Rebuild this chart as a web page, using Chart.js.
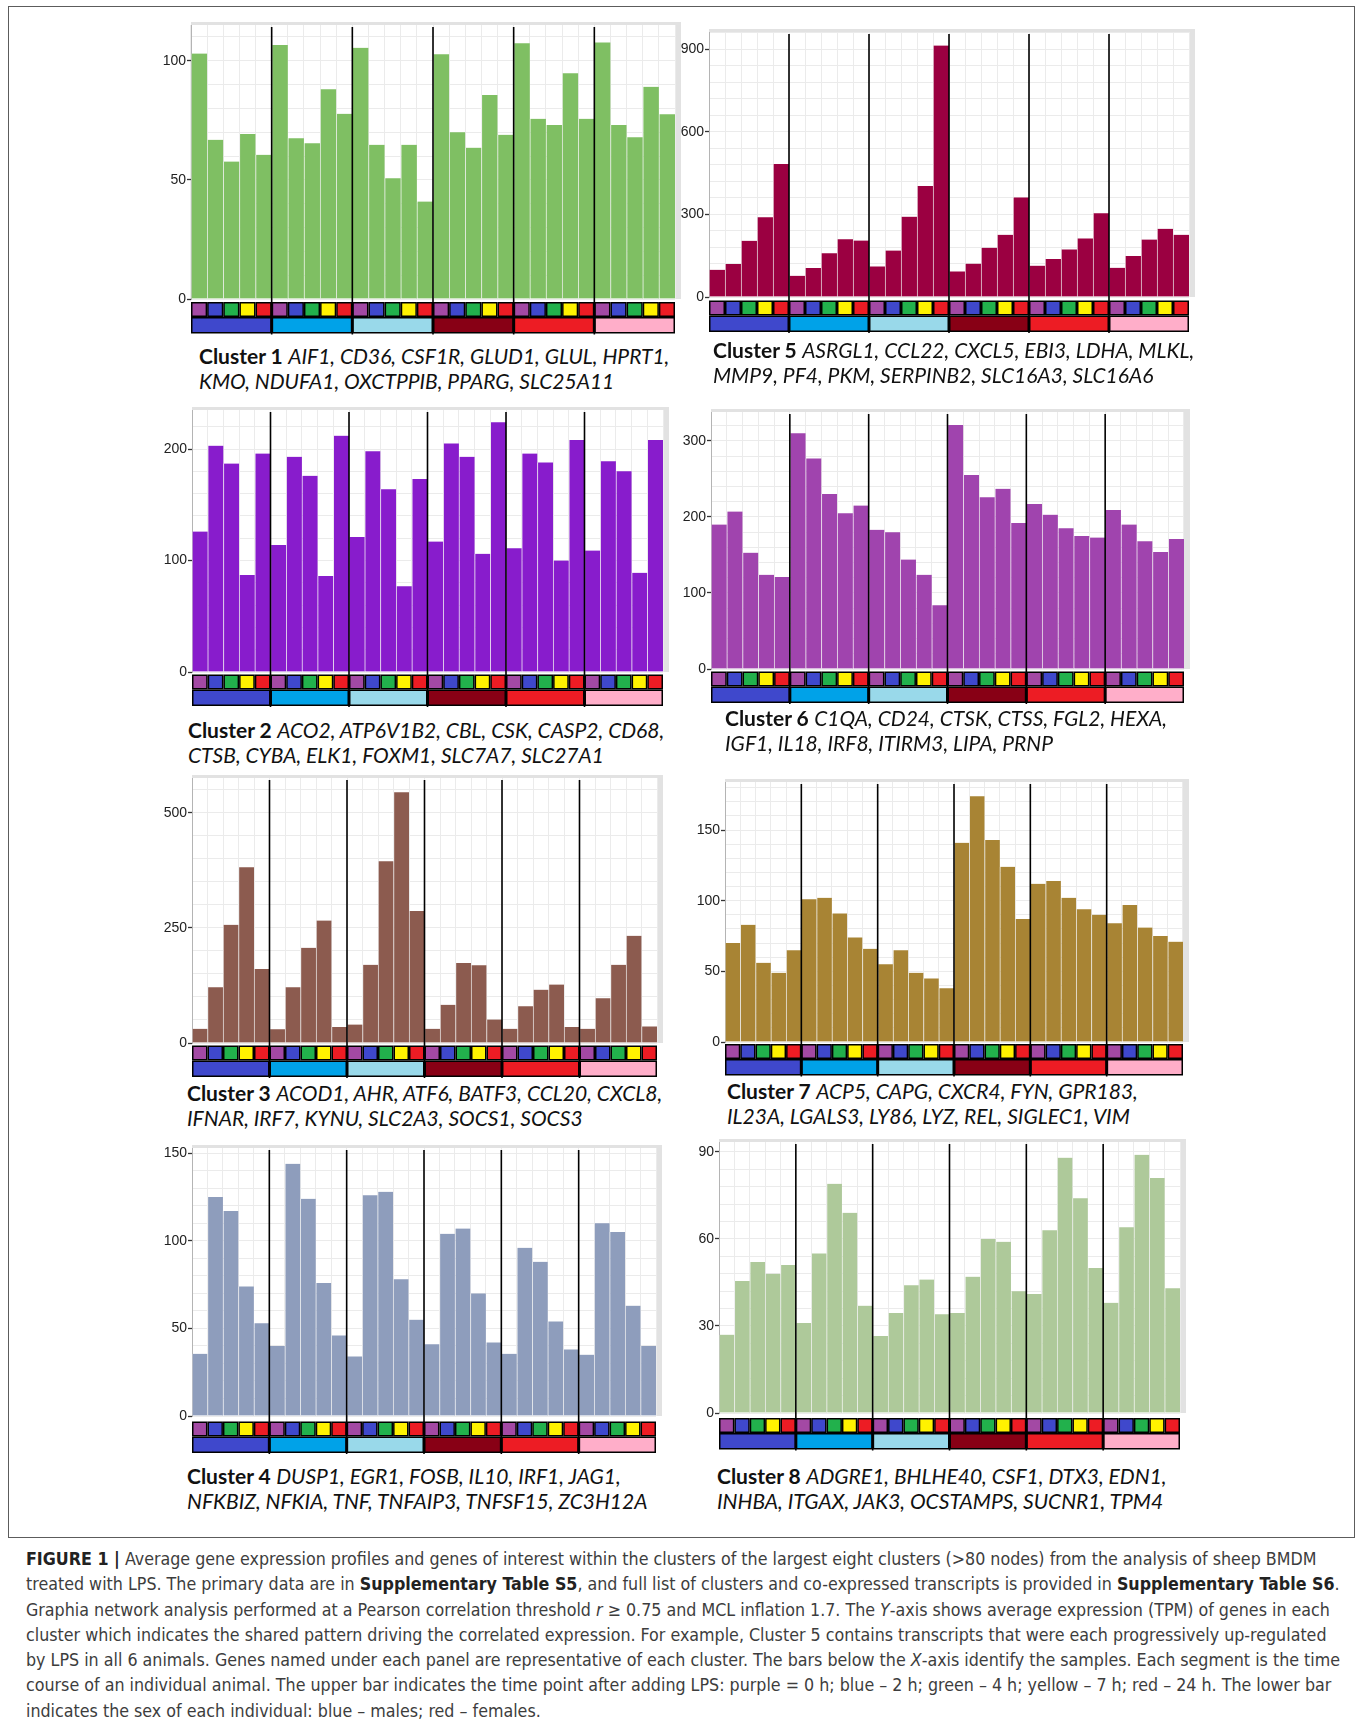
<!DOCTYPE html>
<html>
<head>
<meta charset="utf-8">
<title>Figure 1 - gene expression clusters</title>
<script src="https://cdn.jsdelivr.net/npm/chart.js@4.4.1/dist/chart.umd.min.js"></script>
<style>
  html, body { margin: 0; padding: 0; background: #fff; }
  body { position: relative; width: 1360px; height: 1725px; overflow: hidden; }
  #frame { position: absolute; left: 8px; top: 6px; width: 1347px; height: 1532px;
           border: 1.5px solid #5c5c5c; box-sizing: border-box; }
  .cap { position: absolute; white-space: nowrap; font-family: Lato, 'Open Sans', sans-serif;
         font-size: 21px; line-height: 21px; color: #111; }
  .cap b { font-weight: 700; }
  #legend { position: absolute; left: 26px; top: 1547px; width: 1330px;
            font-family: 'Liberation Sans Narrow', 'Arial Narrow', 'DejaVu Sans Condensed', 'Liberation Sans', sans-serif;
            font-size: 17.7px; line-height: 25.3px; color: #3d3d3d; white-space: nowrap; }
  #legend b { color: #222; }
</style>
</head>
<body>
<div id="frame"></div>

<div id="legend">
<b>FIGURE 1 |</b> Average gene expression profiles and genes of interest within the clusters of the largest eight clusters (&gt;80 nodes) from the analysis of sheep BMDM<br>
treated with LPS. The primary data are in <b>Supplementary Table S5</b>, and full list of clusters and co-expressed transcripts is provided in <b>Supplementary Table S6</b>.<br>
Graphia network analysis performed at a Pearson correlation threshold <i>r</i> ≥ 0.75 and MCL inflation 1.7. The <i>Y</i>-axis shows average expression (TPM) of genes in each<br>
cluster which indicates the shared pattern driving the correlated expression. For example, Cluster 5 contains transcripts that were each progressively up-regulated<br>
by LPS in all 6 animals. Genes named under each panel are representative of each cluster. The bars below the <i>X</i>-axis identify the samples. Each segment is the time<br>
course of an individual animal. The upper bar indicates the time point after adding LPS: purple = 0 h; blue – 2 h; green – 4 h; yellow – 7 h; red – 24 h. The lower bar<br>
indicates the sex of each individual: blue – males; red – females.
</div>

<script>
// samples: 6 animals x 5 time points after LPS
const timepoints = ['0 h', '2 h', '4 h', '7 h', '24 h'];
const animals = ['Male 1', 'Male 2', 'Male 3', 'Female 1', 'Female 2', 'Female 3'];
const timeColours = ['#a349a4', '#3f48cc', '#22b14c', '#fff200', '#ed1c24'];
const animalColours = ['#3f48cc', '#00a2e8', '#99d9ea', '#880015', '#ed1c24', '#ffaec9'];

// average TPM per sample
const cluster1 = [103, 66.8, 57.7, 69.3, 60.5, 106.6, 67.5, 65.4, 88, 77.7, 105.4, 64.7, 50.7, 64.7, 40.9,
                  102.7, 70, 63.5, 85.6, 68.9, 107.3, 75.6, 73, 94.7, 75.6, 107.7, 73, 67.9, 89.1, 77.5];
const cluster2 = [126, 203, 187, 87, 196, 114, 193, 176, 86, 212, 121, 198, 164, 77, 173,
                  117, 205, 193, 106, 224, 111, 196, 188, 100, 208, 109, 189, 180, 89, 208];
const cluster3 = [31, 121, 257, 382, 161, 30, 121, 207, 266, 35, 40, 170, 395, 545, 287,
                  31, 83, 174, 169, 51, 31, 80, 116, 127, 35, 31, 97, 170, 233, 36];
const cluster4 = [35.5, 125, 117, 74, 53, 40, 144, 124, 76, 46, 34, 126, 128, 78, 55,
                  41, 104, 107, 70, 42, 35.5, 96, 88, 54, 38, 35, 110, 105, 63, 40];
const cluster5 = [99, 120, 204, 290, 483, 77, 105, 159, 210, 205, 111, 169, 292, 403, 914,
                  93, 121, 179, 226, 362, 114, 138, 173, 213, 304, 106, 149, 209, 248, 226];
const cluster6 = [190, 207, 153, 124, 121, 310, 277, 230, 205, 215, 183, 180, 144, 124, 84,
                  321, 255, 226, 237, 192, 217, 203, 185, 175, 173, 209, 190, 168, 154, 171];
const cluster7 = [70, 83, 56, 49, 65, 101, 102, 91, 74, 66, 55, 65, 49, 45, 38,
                  141, 174, 143, 124, 87, 112, 114, 102, 94, 90, 84, 97, 81, 75, 71];
const cluster8 = [27, 45.5, 52, 48, 51, 31, 55, 79, 69, 37, 26.5, 34.5, 44, 46, 34,
                  34.5, 47, 60, 59, 42, 41, 63, 88, 74, 50, 38, 64, 89, 81, 43];

// y tick labels
const ticks1 = [0, 50, 100];
const ticks2 = [0, 100, 200];
const ticks3 = [0, 250, 500];
const ticks4 = [0, 50, 100, 150];
const ticks5 = [0, 300, 600, 900];
const ticks6 = [0, 100, 200, 300];
const ticks7 = [0, 50, 100, 150];
const ticks8 = [0, 30, 60, 90];

// representative genes (first line / second line)
const genes1 = [['AIF1', 'CD36', 'CSF1R', 'GLUD1', 'GLUL', 'HPRT1'], ['KMO', 'NDUFA1', 'OXCTPPIB', 'PPARG', 'SLC25A11']];
const genes2 = [['ACO2', 'ATP6V1B2', 'CBL', 'CSK', 'CASP2', 'CD68'], ['CTSB', 'CYBA', 'ELK1', 'FOXM1', 'SLC7A7', 'SLC27A1']];
const genes3 = [['ACOD1', 'AHR', 'ATF6', 'BATF3', 'CCL20', 'CXCL8'], ['IFNAR', 'IRF7', 'KYNU', 'SLC2A3', 'SOCS1', 'SOCS3']];
const genes4 = [['DUSP1', 'EGR1', 'FOSB', 'IL10', 'IRF1', 'JAG1'], ['NFKBIZ', 'NFKIA', 'TNF', 'TNFAIP3', 'TNFSF15', 'ZC3H12A']];
const genes5 = [['ASRGL1', 'CCL22', 'CXCL5', 'EBI3', 'LDHA', 'MLKL'], ['MMP9', 'PF4', 'PKM', 'SERPINB2', 'SLC16A3', 'SLC16A6']];
const genes6 = [['C1QA', 'CD24', 'CTSK', 'CTSS', 'FGL2', 'HEXA'], ['IGF1', 'IL18', 'IRF8', 'ITIRM3', 'LIPA', 'PRNP']];
const genes7 = [['ACP5', 'CAPG', 'CXCR4', 'FYN', 'GPR183'], ['IL23A', 'LGALS3', 'LY86', 'LYZ', 'REL', 'SIGLEC1', 'VIM']];
const genes8 = [['ADGRE1', 'BHLHE40', 'CSF1', 'DTX3', 'EDN1'], ['INHBA', 'ITGAX', 'JAK3', 'OCSTAMPS', 'SUCNR1', 'TPM4']];

const sampleLabels = [];
animals.forEach(a => timepoints.forEach(t => sampleLabels.push(a + ' ' + t)));

// panel placement on the page (plot left/right/top, zero line), axis max, minor grid step
const panels = [
  { name: 'Cluster 1', data: cluster1, ticks: ticks1, genes: genes1, colour: '#7fbf63', max: 115, minor: 10,
    L: 191, R: 675, T: 25, Z: 299, strip: 3, capX: 199, capY: 363 },
  { name: 'Cluster 5', data: cluster5, ticks: ticks5, genes: genes5, colour: '#9b0041', max: 963, minor: 60,
    L: 709, R: 1189, T: 32, Z: 297, strip: 3.5, capX: 713, capY: 357 },
  { name: 'Cluster 2', data: cluster2, ticks: ticks2, genes: genes2, colour: '#881ccc', max: 235, minor: 20,
    L: 192, R: 663, T: 410, Z: 672, strip: 2.5, capX: 188, capY: 737 },
  { name: 'Cluster 6', data: cluster6, ticks: ticks6, genes: genes6, colour: '#a044ae', max: 338, minor: 20,
    L: 711, R: 1184, T: 412, Z: 669, strip: 2.5, capX: 725, capY: 725 },
  { name: 'Cluster 3', data: cluster3, ticks: ticks3, genes: genes3, colour: '#8c5b4f', max: 576, minor: 50,
    L: 192, R: 657, T: 778, Z: 1043, strip: 2.5, capX: 187, capY: 1100 },
  { name: 'Cluster 7', data: cluster7, ticks: ticks7, genes: genes7, colour: '#a88434', max: 184, minor: 10,
    L: 725, R: 1183, T: 782, Z: 1042, strip: 2, capX: 727, capY: 1098 },
  { name: 'Cluster 4', data: cluster4, ticks: ticks4, genes: genes4, colour: '#8e9dbc', max: 153, minor: 10,
    L: 192, R: 656, T: 1148, Z: 1416, strip: 5.5, capX: 187, capY: 1483 },
  { name: 'Cluster 8', data: cluster8, ticks: ticks8, genes: genes8, colour: '#aec99a', max: 93.4, minor: 6,
    L: 719, R: 1180, T: 1142, Z: 1413, strip: 5, capX: 717, capY: 1483 }
];

// light frame, sample strips under the x axis and the black animal separators
const panelDecor = {
  id: 'panelDecor',
  beforeDraw(chart) {
    const { ctx, chartArea: a } = chart;
    ctx.save();
    ctx.fillStyle = '#e2e2e2';
    ctx.fillRect(a.left, a.top - 3, a.right - a.left + 6, 3);
    ctx.fillRect(a.right, a.top - 3, 6, a.bottom - a.top + 3);
    ctx.restore();
  },
  afterDatasetsDraw(chart, args, opts) {
    const { ctx, chartArea: a, scales: { x } } = chart;
    const half = (x.getPixelForValue(1) - x.getPixelForValue(0)) / 2;
    const y1 = a.bottom + opts.strip, y2 = y1 + 15, y3 = y2 + 16.5;
    const n = timepoints.length;
    ctx.save();
    sampleLabels.forEach((lab, i) => {
      const cx = x.getPixelForValue(i);
      ctx.fillStyle = '#000';
      ctx.fillRect(cx - half, y1, half * 2, y2 - y1);
      ctx.fillStyle = timeColours[i % n];
      ctx.fillRect(cx - half + 1.5, y1 + 1.5, half * 2 - 3, y2 - y1 - 3);
    });
    animals.forEach((an, g) => {
      const xl = x.getPixelForValue(g * n) - half;
      const xr = x.getPixelForValue(g * n + n - 1) + half;
      ctx.fillStyle = '#000';
      ctx.fillRect(xl, y2, xr - xl, y3 - y2);
      ctx.fillStyle = animalColours[g];
      ctx.fillRect(xl + 1.5, y2 + 1.5, xr - xl - 3, y3 - y2 - 3);
    });
    ctx.strokeStyle = '#000';
    ctx.lineWidth = 1.6;
    for (let g = 1; g < animals.length; g++) {
      const xs = x.getPixelForValue(g * n) - half;
      ctx.beginPath();
      ctx.moveTo(xs, a.top + 2);
      ctx.lineTo(xs, y3 + 1);
      ctx.stroke();
    }
    ctx.restore();
  }
};

function addCaption(p) {
  const l1 = document.createElement('div');
  l1.className = 'cap';
  l1.style.left = p.capX + 'px';
  l1.style.top = (p.capY - 18) + 'px';
  l1.innerHTML = '<b>' + p.name + '</b> <i>' + p.genes[0].join(', ') + ',</i>';
  const l2 = document.createElement('div');
  l2.className = 'cap';
  l2.style.left = p.capX + 'px';
  l2.style.top = (p.capY + 25 - 18) + 'px';
  l2.innerHTML = '<i>' + p.genes[1].join(', ') + '</i>';
  document.body.appendChild(l1);
  document.body.appendChild(l2);
}

function addPanel(p) {
  const axisW = 48, padTop = 4, padRight = 7;
  const padBottom = Math.ceil(p.strip + 34);
  const wrap = document.createElement('div');
  const top = p.T - padTop;
  wrap.style.cssText = 'position:absolute;left:' + (p.L - axisW) + 'px;top:' + top + 'px;width:' +
    (p.R - p.L + axisW + padRight) + 'px;height:' + (p.Z + padBottom - top) + 'px';
  const cv = document.createElement('canvas');
  wrap.appendChild(cv);
  document.body.appendChild(wrap);

  new Chart(cv, {
    type: 'bar',
    data: {
      labels: sampleLabels,
      datasets: [{
        label: p.name,
        data: p.data,
        backgroundColor: p.colour,
        borderColor: 'rgba(255,255,255,0.3)',
        borderWidth: { left: 1, right: 0, top: 0, bottom: 0 },
        borderSkipped: false,
        barPercentage: 1,
        categoryPercentage: 1
      }]
    },
    options: {
      responsive: true,
      maintainAspectRatio: false,
      animation: false,
      layout: { padding: { top: padTop, right: padRight, bottom: padBottom, left: 0 } },
      plugins: {
        legend: { display: false },
        tooltip: { enabled: false },
        panelDecor: { strip: p.strip }
      },
      scales: {
        x: {
          grid: { color: '#ebebeb', offset: true, drawTicks: false },
          border: { display: false },
          ticks: { display: false },
          afterFit: s => { s.height = 0; }
        },
        y: {
          min: 0,
          max: p.max,
          afterBuildTicks: s => {
            const t = [];
            for (let v = 0; v <= p.max + 1e-6; v += p.minor) t.push({ value: v });
            s.ticks = t;
          },
          afterFit: s => { s.width = axisW; s.paddingTop = 0; s.paddingBottom = 0; },
          border: { color: '#b4b4b4', width: 1 },
          grid: {
            color: '#ebebeb',
            tickLength: 4,
            tickWidth: 1.3,
            tickColor: c => (c.tick && p.ticks.includes(c.tick.value)) ? '#333' : 'rgba(0,0,0,0)'
          },
          ticks: {
            autoSkip: false,
            padding: 1,
            color: '#222',
            font: { family: "'Liberation Sans', Arial, sans-serif", size: 14 },
            callback: v => p.ticks.includes(v) ? String(v) : ''
          }
        }
      }
    },
    plugins: [panelDecor]
  });
  addCaption(p);
}

panels.forEach(addPanel);
</script>
</body>
</html>
